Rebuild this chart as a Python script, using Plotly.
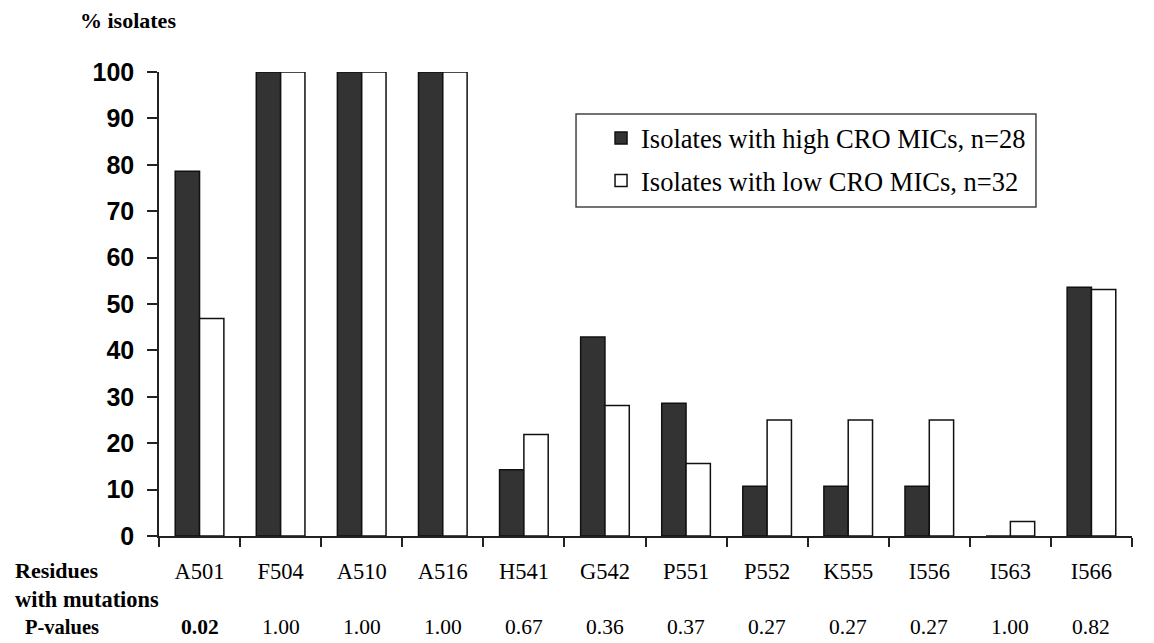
import plotly.graph_objects as go

residues = ["A501", "F504", "A510", "A516", "H541", "G542", "P551", "P552", "K555", "I556", "I563", "I566"]
high_mic = [78.6, 100, 100, 100, 14.3, 42.9, 28.6, 10.7, 10.7, 10.7, 0, 53.6]
low_mic = [46.9, 100, 100, 100, 21.9, 28.1, 15.6, 25.0, 25.0, 25.0, 3.1, 53.1]
p_values = ["<b>0.02</b>", "1.00", "1.00", "1.00", "0.67", "0.36", "0.37", "0.27", "0.27", "0.27", "1.00", "0.82"]
y_ticks = [0, 10, 20, 30, 40, 50, 60, 70, 80, 90, 100]

serif = "Liberation Serif, Times New Roman, serif"
sans = "Liberation Sans, Arial, sans-serif"

fig = go.Figure()
fig.add_trace(go.Bar(x=residues, y=high_mic, name="Isolates with high CRO MICs, n=28", legendgroup="high",
                     marker=dict(color="#333333", line=dict(color="#111111", width=1.5))))
fig.add_trace(go.Bar(x=residues, y=low_mic, name="Isolates with low CRO MICs, n=32", legendgroup="low",
                     marker=dict(color="white", line=dict(color="#111111", width=1.5))))

annotations = [
    dict(text="<b>% isolates</b>", x=-0.083, y=1.112, xref="paper", yref="paper",
         xanchor="left", yanchor="middle", showarrow=False, font=dict(family=serif, size=22, color="black")),
    dict(text="<b>Residues</b>", x=-0.1504, y=-0.0754, xref="paper", yref="paper",
         xanchor="left", yanchor="middle", showarrow=False, font=dict(family=serif, size=22, color="black")),
    dict(text="<b>with mutations</b>", x=-0.1504, y=-0.1358, xref="paper", yref="paper",
         xanchor="left", yanchor="middle", showarrow=False, font=dict(family=serif, size=22.4, color="black")),
    dict(text="<b>P-values</b>", x=-0.1398, y=-0.1961, xref="paper", yref="paper",
         xanchor="left", yanchor="middle", showarrow=False, font=dict(family=serif, size=20.5, color="black")),
]
for r, p in zip(residues, p_values):
    annotations.append(dict(text=p, x=r, y=-0.1961, xref="x", yref="paper", xanchor="center",
                            yanchor="middle", showarrow=False, font=dict(family=serif, size=21.5, color="black")))

fig.update_layout(
    width=1154, height=643,
    margin=dict(l=151, r=30, t=64, b=115),
    paper_bgcolor="white", plot_bgcolor="white",
    barmode="group", bargap=0.4, bargroupgap=0,
    showlegend=True,
    legend=dict(x=0.4543, y=0.909, xanchor="left", yanchor="top",
                bgcolor="rgba(0,0,0,0)", borderwidth=0,
                font=dict(family=serif, size=26.5, color="black"),
                tracegroupgap=5),
    shapes=[dict(type="rect", xref="paper", yref="paper", x0=0.4286, x1=0.9013, y0=0.709, y1=0.9095,
                 line=dict(color="#444444", width=1.5), fillcolor="white", layer="above")],
    xaxis=dict(showline=True, linecolor="#222222", linewidth=1.5,
               ticks="outside", ticklen=9, tickcolor="#222222", tickwidth=1.5,
               tickson="boundaries", showgrid=False,
               tickfont=dict(family=serif, size=22.5, color="black"),
               ticklabelstandoff=14),
    yaxis=dict(range=[0, 100], tickvals=y_ticks, showline=True, linecolor="#222222", linewidth=1.5,
               ticks="outside", ticklen=10, tickcolor="#222222", tickwidth=1.5,
               showgrid=False, zeroline=False,
               tickfont=dict(family=sans, size=25, color="black", weight="bold"),
               ticklabelstandoff=8),
    annotations=annotations,
)

fig.write_html("out.html")
